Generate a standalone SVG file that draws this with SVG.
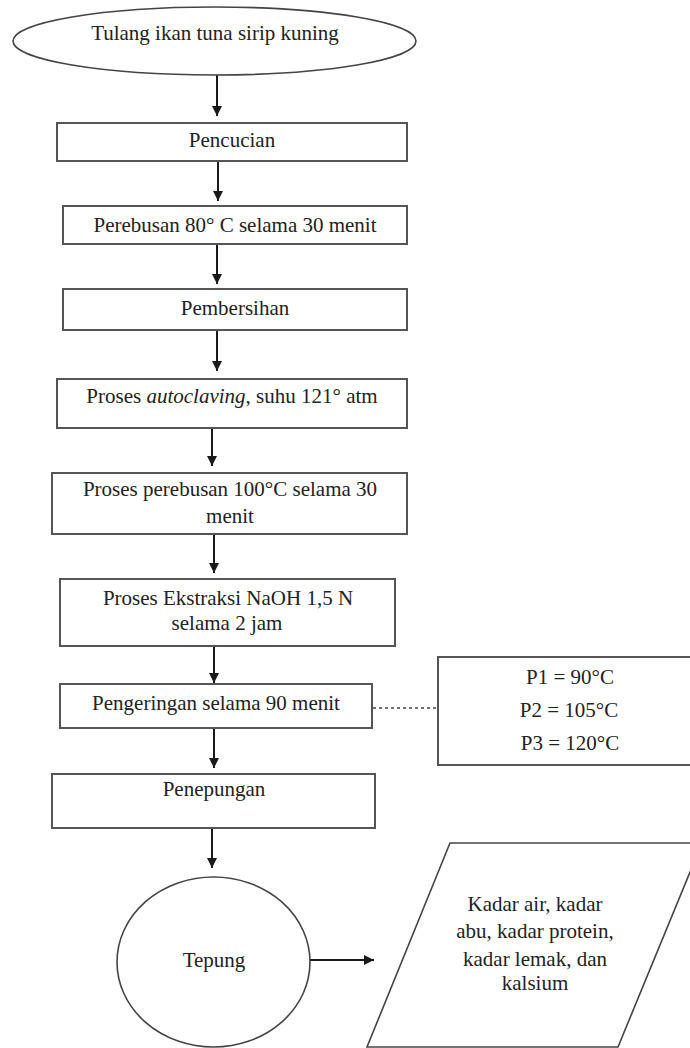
<svg xmlns="http://www.w3.org/2000/svg" width="690" height="1048" viewBox="0 0 690 1048">
<style>
.box{fill:#fff;stroke:#555;stroke-width:2}
.shape{fill:#fff;stroke:#444;stroke-width:1.6}
.t{font-family:'Liberation Serif','DejaVu Serif',serif;font-size:21px;fill:#222;text-anchor:middle}
.c{stroke:#1a1a1a;stroke-width:2;fill:none}
.d{stroke:#444;stroke-width:1.6;stroke-dasharray:3,3;fill:none}
</style>
<defs>
<marker id="ah" markerUnits="userSpaceOnUse" markerWidth="12" markerHeight="12" viewBox="0 0 12 12" refX="11" refY="6" orient="auto">
<path d="M1,1 L11,6 L1,11 Z" fill="#1a1a1a"/>
</marker>
</defs>
<rect width="690" height="1048" fill="#fff"/>
<g id="connectors">
<line class="c" x1="217" y1="75" x2="217" y2="116" marker-end="url(#ah)"/>
<line class="c" x1="218" y1="161" x2="218" y2="201" marker-end="url(#ah)"/>
<line class="c" x1="217" y1="244" x2="217" y2="284" marker-end="url(#ah)"/>
<line class="c" x1="217" y1="330" x2="217" y2="371" marker-end="url(#ah)"/>
<line class="c" x1="212" y1="428" x2="212" y2="466" marker-end="url(#ah)"/>
<line class="c" x1="214" y1="534" x2="214" y2="573" marker-end="url(#ah)"/>
<line class="c" x1="214" y1="646" x2="214" y2="683" marker-end="url(#ah)"/>
<line class="c" x1="214" y1="728" x2="214" y2="768" marker-end="url(#ah)"/>
<line class="c" x1="212" y1="828" x2="212" y2="868" marker-end="url(#ah)"/>
<line class="c" x1="310" y1="960" x2="374" y2="960" marker-end="url(#ah)"/>
<line class="d" x1="373" y1="708" x2="438" y2="708"/>
</g>
<g font-family="'Liberation Serif', 'DejaVu Serif', serif">
<g id="n-start">
<ellipse class="shape" cx="214.5" cy="41" rx="201.5" ry="34"/>
<text class="t" x="215" y="40">Tulang ikan tuna sirip kuning</text>
</g>
<g id="n-pencucian">
<rect class="box" x="57" y="123" width="350" height="38"/>
<text class="t" x="232" y="147">Pencucian</text>
</g>
<g id="n-perebusan80">
<rect class="box" x="63" y="206" width="344" height="38"/>
<text class="t" x="235" y="232">Perebusan 80° C selama 30 menit</text>
</g>
<g id="n-pembersihan">
<rect class="box" x="63" y="289" width="344" height="41"/>
<text class="t" x="235" y="315">Pembersihan</text>
</g>
<g id="n-autoclaving">
<rect class="box" x="57" y="379" width="350" height="49"/>
<text class="t" x="232" y="403">Proses <tspan font-style="italic">autoclaving</tspan>, suhu 121° atm</text>
</g>
<g id="n-perebusan100">
<rect class="box" x="52" y="473" width="355" height="61"/>
<text class="t" x="230" y="496">Proses perebusan 100°C selama 30</text>
<text class="t" x="230" y="523">menit</text>
</g>
<g id="n-ekstraksi">
<rect class="box" x="60" y="579" width="335" height="67"/>
<text class="t" x="228" y="605">Proses Ekstraksi NaOH 1,5 N</text>
<text class="t" x="227" y="630">selama 2 jam</text>
</g>
<g id="n-pengeringan">
<rect class="box" x="60" y="684" width="312" height="44"/>
<text class="t" x="216" y="710">Pengeringan selama 90 menit</text>
</g>
<g id="n-suhu">
<rect class="box" x="438" y="657" width="262" height="108"/>
<text class="t" x="570" y="684">P1 = 90°C</text>
<text class="t" x="569" y="717">P2 = 105°C</text>
<text class="t" x="570" y="750">P3 = 120°C</text>
</g>
<g id="n-penepungan">
<rect class="box" x="52" y="774" width="323" height="54"/>
<text class="t" x="214" y="796">Penepungan</text>
</g>
<g id="n-tepung">
<ellipse class="shape" cx="213.5" cy="962" rx="96.5" ry="85"/>
<text class="t" x="214" y="967">Tepung</text>
</g>
<g id="n-analisis">
<polygon class="shape" points="450,843 702,843 618,1047 367,1047"/>
<text class="t" x="535" y="911">Kadar air, kadar</text>
<text class="t" x="535" y="938">abu, kadar protein,</text>
<text class="t" x="535" y="966">kadar lemak, dan</text>
<text class="t" x="535" y="990">kalsium</text>
</g>
</g>
</svg>
